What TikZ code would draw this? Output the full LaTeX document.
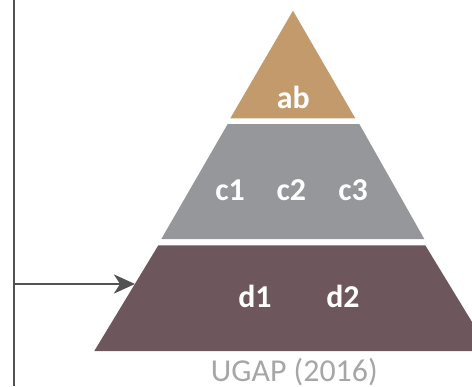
\documentclass[tikz,border=0pt]{standalone}
\usepackage{fontspec}
\setmainfont{Carlito}
\usepackage{xcolor}
\usepackage{tikz}
\usetikzlibrary{arrows.meta}
\definecolor{tiertan}{HTML}{C39A6B}
\definecolor{tiergray}{HTML}{96979B}
\definecolor{tiermaroon}{HTML}{6D575C}
\definecolor{linegray}{HTML}{525252}
\definecolor{capgray}{HTML}{A6A6A6}
\tikzset{
  tierlabel/.style={text=white, font=\fontsize{32}{38}\selectfont\bfseries, inner sep=0pt, anchor=base},
  feed/.style={draw=linegray, line width=2.5bp},
}
\begin{document}
\begin{tikzpicture}[x=1bp,y=-1bp]
\useasboundingbox (0,0) rectangle (472,386);
\clip (0,0) rectangle (472,386);
% pyramid tiers
\fill[tiertan] (293,10.7) -- (355.3,118.3) -- (230.3,118.3) -- cycle;
\fill[tiergray] (227.7,124) -- (359.3,124) -- (424.3,239) -- (161.3,239) -- cycle;
\fill[tiermaroon] (158.3,245.3) -- (425.3,245.3) -- (489.7,351) -- (94.3,351) -- cycle;
% labels
\node[tierlabel] (lab-ab) at (293.3,108.3) {ab};
\foreach \t/\x in {c1/230,c2/291.3,c3/353} {
  \node[tierlabel] (lab-\t) at (\x,200) {\t};
}
\foreach \t/\x in {d1/255,d2/343} {
  \node[tierlabel] (lab-\t) at (\x,307) {\t};
}
\node[text=capgray, font=\fontsize{32}{38}\selectfont, inner sep=0pt, anchor=base] (caption) at (294.3,381.5) {UGAP (2016)};
% feed line
\coordinate (top) at (14,0);
\coordinate (bottom) at (14,386);
\coordinate (branch) at (14,284);
\coordinate (edge) at (135,284);
\draw[feed] (top) -- (bottom);
\draw[feed, -{Stealth[length=21bp, width=19bp, inset=6bp]}] (branch) -- (edge);
\end{tikzpicture}
\end{document}
